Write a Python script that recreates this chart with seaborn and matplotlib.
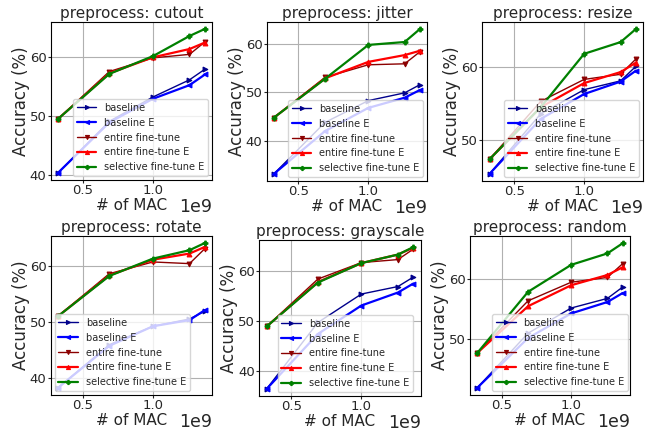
import matplotlib
matplotlib.use("Agg")
import matplotlib.pyplot as plt
from matplotlib.ticker import MultipleLocator
import seaborn as sns

sns.set_theme(style="ticks", rc={"axes.grid": True, "grid.color": "#b0b0b0",
                                 "grid.linewidth": 0.8, "axes.edgecolor": "black",
                                 "axes.linewidth": 0.8})
plt.rcParams['font.family'] = ['DejaVu Sans']

mac = [0.325e9, 0.69e9, 1.0e9, 1.26e9, 1.37e9]

methods = ["baseline", "baseline E", "entire fine-tune", "entire fine-tune E",
           "selective fine-tune E"]

titles = ["preprocess: cutout", "preprocess: jitter", "preprocess: resize",
          "preprocess: rotate", "preprocess: grayscale", "preprocess: random"]

cutout_baseline = [40.4, 49.1, 53.2, 56.1, 57.9]
cutout_baseline_e = [40.4, 48.9, 52.9, 55.2, 57.0]
cutout_entire = [49.5, 57.5, 59.8, 60.4, 62.5]
cutout_entire_e = [49.5, 57.2, 59.9, 61.3, 62.4]
cutout_selective_e = [49.5, 57.1, 60.1, 63.5, 64.7]

jitter_baseline = [33.2, 43.8, 48.3, 49.9, 51.6]
jitter_baseline_e = [33.2, 42.0, 46.8, 48.9, 50.5]
jitter_entire = [44.8, 53.1, 55.7, 55.9, 58.4]
jitter_entire_e = [44.8, 52.9, 56.3, 57.7, 58.6]
jitter_selective_e = [44.8, 52.8, 59.8, 60.4, 63.1]

resize_baseline = [45.4, 53.6, 56.9, 58.1, 60.1]
resize_baseline_e = [45.4, 52.9, 56.3, 58.0, 59.5]
resize_entire = [47.4, 55.3, 58.3, 59.0, 61.1]
resize_entire_e = [47.4, 54.5, 57.8, 59.3, 60.6]
resize_selective_e = [47.4, 54.5, 61.8, 63.4, 65.2]

rotate_baseline = [38.3, 46.0, 49.3, 50.6, 52.0]
rotate_baseline_e = [38.3, 45.8, 49.3, 50.4, 52.2]
rotate_entire = [51.1, 58.7, 60.8, 60.5, 63.2]
rotate_entire_e = [51.1, 58.4, 61.2, 62.3, 63.5]
rotate_selective_e = [51.1, 58.3, 61.4, 62.9, 64.2]

grayscale_baseline = [36.4, 49.7, 55.4, 56.9, 58.8]
grayscale_baseline_e = [36.4, 47.4, 53.1, 55.7, 57.5]
grayscale_entire = [48.9, 58.4, 61.7, 62.3, 64.4]
grayscale_entire_e = [48.9, 57.8, 61.6, 63.3, 64.7]
grayscale_selective_e = [48.9, 57.7, 61.6, 63.3, 64.8]

random_baseline = [41.8, 50.9, 55.1, 56.7, 58.6]
random_baseline_e = [41.8, 50.1, 54.2, 56.1, 57.6]
random_entire = [47.6, 56.3, 59.4, 60.2, 62.5]
random_entire_e = [47.6, 55.4, 58.9, 60.6, 61.9]
random_selective_e = [47.6, 57.8, 62.3, 64.2, 65.9]

panels = [
    [cutout_baseline, cutout_baseline_e, cutout_entire, cutout_entire_e, cutout_selective_e],
    [jitter_baseline, jitter_baseline_e, jitter_entire, jitter_entire_e, jitter_selective_e],
    [resize_baseline, resize_baseline_e, resize_entire, resize_entire_e, resize_selective_e],
    [rotate_baseline, rotate_baseline_e, rotate_entire, rotate_entire_e, rotate_selective_e],
    [grayscale_baseline, grayscale_baseline_e, grayscale_entire, grayscale_entire_e, grayscale_selective_e],
    [random_baseline, random_baseline_e, random_entire, random_entire_e, random_selective_e],
]

colors = ["#00008b", "#0000ff", "#8b0000", "#ff0000", "#008000"]
markers = [">", "<", "v", "^", "P"]
lws = [1.0, 1.6, 1.0, 1.6, 1.6]

W, H = 654, 430
# axes boxes in pixels: left, right, top, bottom
boxes = [(50.7, 212.3, 21.7, 180), (266.7, 427.3, 21.7, 181), (482.3, 643.3, 21.7, 181),
         (50.7, 212.3, 235.7, 395), (259.3, 420.7, 240, 396), (470, 630, 236, 395)]
legend_locs = [("lower right", (1, 0)), ("lower right", (1, 0)), ("lower right", (1, 0)),
               ("lower left", (0, 0)), ("lower right", (0.975, 0)), ("lower right", (1.01, 0))]

fig = plt.figure(figsize=(W / 100, H / 100), dpi=100)
for i, (series, title) in enumerate(zip(panels, titles)):
    l, r, t, b = boxes[i]
    ax = fig.add_axes([l / W, 1 - b / H, (r - l) / W, (b - t) / H])
    for j, vals in enumerate(series):
        sns.lineplot(x=mac, y=vals, ax=ax, color=colors[j], marker=markers[j],
                     markersize=3.5, linewidth=lws[j], label=methods[j],
                     markeredgecolor=colors[j])
    ax.yaxis.set_major_locator(MultipleLocator(10))
    ax.xaxis.set_major_locator(MultipleLocator(0.5e9))
    ax.set_title(title, fontsize=11, pad=3)
    ax.set_xlabel("# of MAC", fontsize=11, labelpad=0.5)
    ax.set_ylabel("Accuracy (%)", fontsize=12, labelpad=0)
    ax.tick_params(labelsize=9.5, length=2, width=0.8, pad=1)
    ax.xaxis.OFFSETTEXTPAD = 0.5
    ax.xaxis.get_offset_text().set_fontsize(12.5)
    ax.grid(True, color="#b0b0b0", linewidth=0.8)
    loc, anchor = legend_locs[i]
    ax.legend(loc=loc, bbox_to_anchor=anchor, fontsize=7, labelspacing=0.5,
              borderaxespad=0.4, handlelength=2.0, framealpha=0.8, markerscale=0.85)

fig.savefig("out.png", dpi=100)
